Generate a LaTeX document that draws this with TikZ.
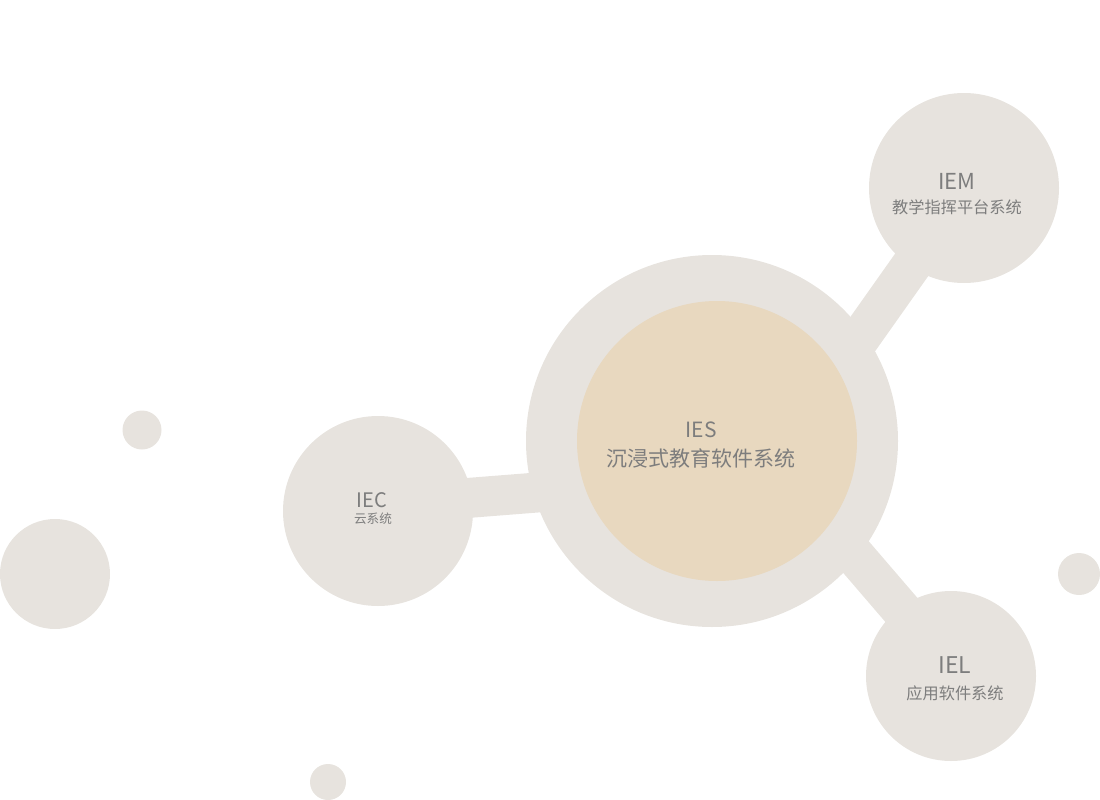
\documentclass[tikz,border=0pt]{standalone}
\usepackage{fontspec}
\setmainfont{Noto Sans CJK SC}
\definecolor{bub}{RGB}{231,227,222}
\definecolor{core}{RGB}{232,216,191}
\definecolor{txt}{RGB}{125,125,125}
\begin{document}
\begin{tikzpicture}[x=1pt,y=-1pt,
  bubble/.style={circle, fill=bub, draw=none, inner sep=0pt, minimum size=#1},
  band/.style={draw=bub, line width=40pt},
  lbl/.style={text=txt, inner sep=0pt, anchor=base},
]
\useasboundingbox (0,0) rectangle (1100,800);
% band end points
\coordinate (bmA) at (966,188);
\coordinate (bmB) at (802,420);
\coordinate (bcA) at (378,505);
\coordinate (bcB) at (620,486);
\coordinate (blA) at (770,457);
\coordinate (blB) at (947,663);
% connectors
\draw[band] (bmA) -- (bmB);
\draw[band] (bcA) -- (bcB);
\draw[band] (blA) -- (blB);
% main circles
\node[bubble=372pt] (iesout) at (712,441) {};
\node[circle, fill=core, inner sep=0pt, minimum size=280pt] (iesin) at (717,441) {};
\node[bubble=190pt] (iem) at (964,188) {};
\node[bubble=190pt] (iec) at (378,511) {};
\node[bubble=170pt] (iel) at (951,676) {};
% decorative dots
\node[bubble=39pt] (d1) at (142,430) {};
\node[bubble=110pt] (d2) at (55,574) {};
\node[bubble=42pt] (d3) at (1079,574) {};
\node[bubble=36pt] (d4) at (328,782) {};
% labels
\node[lbl, font=\fontsize{21}{21}\selectfont] (iesT) at (701,437) {IES};
\node[lbl, font=\fontsize{21}{21}\selectfont] (iesS) at (701,466) {沉浸式教育软件系统};
\node[lbl, font=\fontsize{22}{22}\selectfont] (iemT) at (957,189) {IEM};
\node[lbl, font=\fontsize{16.2}{16.2}\selectfont] (iemS) at (957,213) {教学指挥平台系统};
\node[lbl, font=\fontsize{20}{20}\selectfont] (iecT) at (372,507) {IEC};
\node[lbl, font=\fontsize{12.6}{12.6}\selectfont] (iecS) at (373,523) {云系统};
\node[lbl, font=\fontsize{23}{23}\selectfont] (ielT) at (955,673) {IEL};
\node[lbl, font=\fontsize{16.2}{16.2}\selectfont] (ielS) at (955,699) {应用软件系统};
\end{tikzpicture}
\end{document}
